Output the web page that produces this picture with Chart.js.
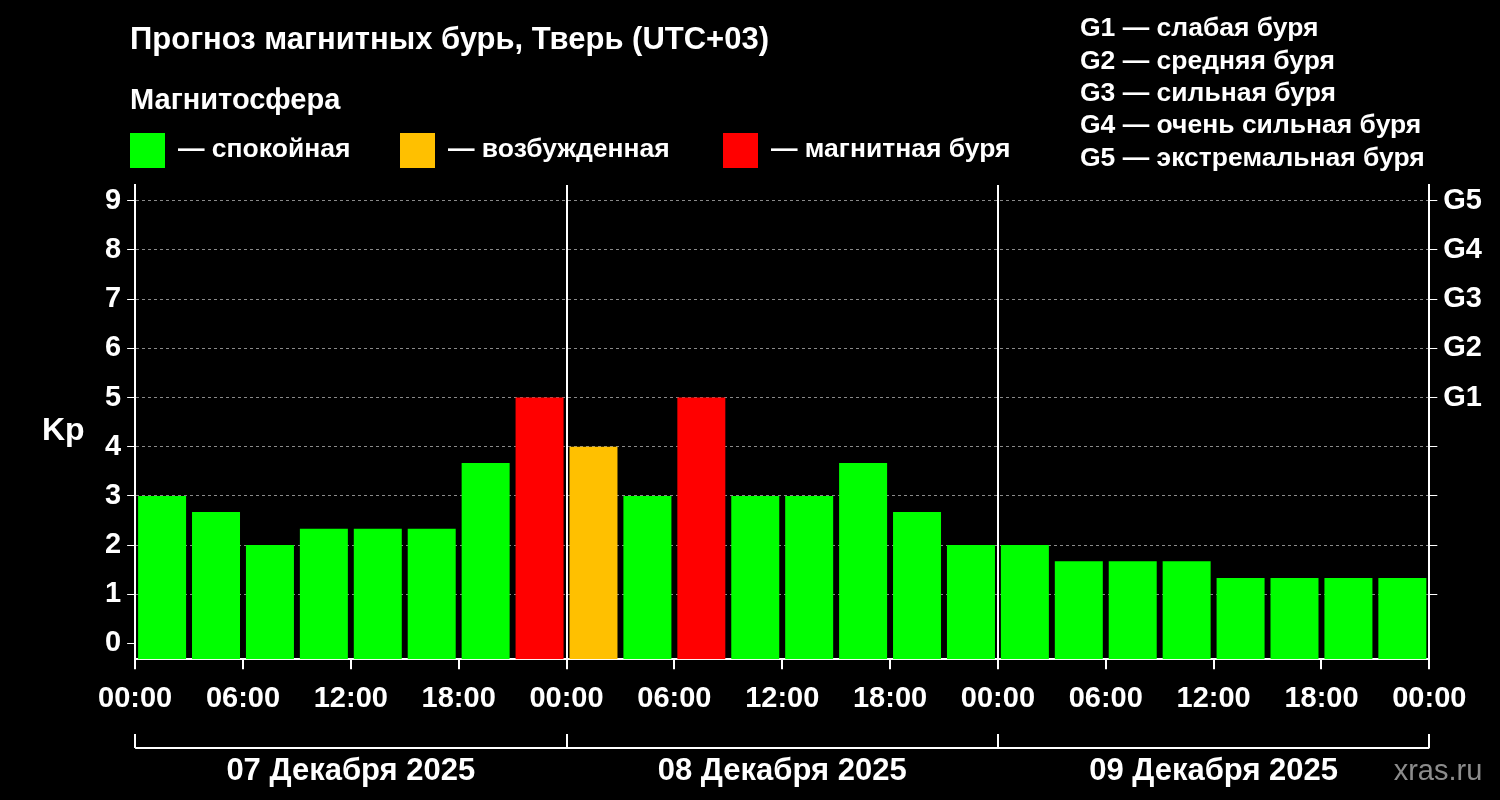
<!DOCTYPE html>
<html>
<head>
<meta charset="utf-8">
<script src="https://cdn.jsdelivr.net/npm/chart.js@4"></script>
<style>
  html, body { margin: 0; padding: 0; background: #000; }
  #wrap { width: 1500px; height: 800px; }
</style>
</head>
<body>
<div id="wrap"><canvas id="kp"></canvas></div>
<script>
// Kp forecast, 3-hour steps from 07 Dec 00:00
const kpValues = [3, 2.67, 2, 2.33, 2.33, 2.33, 3.67, 5,
                  4, 3, 5, 3, 3, 3.67, 2.67, 2,
                  2, 1.67, 1.67, 1.67, 1.33, 1.33, 1.33, 1.33];
const dayLabels = ['07 Декабря 2025', '08 Декабря 2025', '09 Декабря 2025'];
const gLabels = { 5: 'G1', 6: 'G2', 7: 'G3', 8: 'G4', 9: 'G5' };
const gLegend = ['G1 — слабая буря', 'G2 — средняя буря', 'G3 — сильная буря',
                 'G4 — очень сильная буря', 'G5 — экстремальная буря'];
const levels = [
  { text: '— спокойная', color: '#00ff00' },
  { text: '— возбужденная', color: '#ffc000' },
  { text: '— магнитная буря', color: '#ff0000' }
];
const yMin = -0.32, yMax = 9.32;
const FONT = '"Liberation Sans", Arial, sans-serif';

function barColor(v) {
  if (v >= 5) return '#ff0000';
  if (v >= 4) return '#ffc000';
  return '#00ff00';
}

const decor = {
  id: 'decor',
  afterDatasetsDraw(chart) {
    const ctx = chart.ctx;
    const x = chart.scales.x, a = chart.chartArea;
    ctx.save();
    ctx.strokeStyle = '#fff';
    ctx.lineWidth = 2;
    ctx.setLineDash([]);
    [0, 24, 48, 72].forEach(h => {
      const px = Math.round(x.getPixelForValue(h));
      ctx.beginPath(); ctx.moveTo(px, a.top); ctx.lineTo(px, a.bottom); ctx.stroke();
    });
    ctx.restore();
  },
  afterDraw(chart) {
    const ctx = chart.ctx;
    const x = chart.scales.x;
    ctx.save();
    ctx.fillStyle = '#fff';
    ctx.textBaseline = 'middle';
    ctx.font = 'bold 31px ' + FONT;
    ctx.fillText('Прогноз магнитных бурь, Тверь (UTC+03)', 130, 40);
    ctx.font = 'bold 29px ' + FONT;
    ctx.fillText('Магнитосфера', 130, 101);
    const lx = [130, 400, 723];
    levels.forEach((l, i) => {
      ctx.fillStyle = l.color;
      ctx.fillRect(lx[i], 133, 35, 35);
      ctx.fillStyle = '#fff';
      ctx.font = 'bold 26.5px ' + FONT;
      ctx.fillText(l.text, lx[i] + 48, 150);
    });
    ctx.font = 'bold 26.5px ' + FONT;
    gLegend.forEach((t, i) => ctx.fillText(t, 1080, 29 + i * 32.3));

    // Kp title
    ctx.font = 'bold 32px ' + FONT;
    ctx.fillText('Kp', 42, 431);

    // day bracket
    ctx.strokeStyle = '#fff';
    ctx.lineWidth = 2;
    const by = 748;
    ctx.beginPath();
    ctx.moveTo(x.getPixelForValue(0), by);
    ctx.lineTo(x.getPixelForValue(72), by);
    [0, 24, 48, 72].forEach(h => {
      const px = Math.round(x.getPixelForValue(h));
      ctx.moveTo(px, by); ctx.lineTo(px, 734);
    });
    ctx.stroke();
    ctx.textAlign = 'center';
    ctx.font = 'bold 31px ' + FONT;
    dayLabels.forEach((d, i) => ctx.fillText(d, x.getPixelForValue(12 + 24 * i), 771));
    ctx.fillStyle = '#8c8c8c';
    ctx.font = '29px ' + FONT;
    ctx.fillText('xras.ru', 1438, 772);
    ctx.restore();
  }
};

const points = kpValues.map((v, i) => ({ x: 1.5 + 3 * i, y: [yMin, v] }));

new Chart(document.getElementById('kp'), {
  type: 'bar',
  data: {
    datasets: [{
      data: points,
      backgroundColor: kpValues.map(barColor),
      borderWidth: 0,
      categoryPercentage: 1,
      barPercentage: 0.89
    }]
  },
  options: {
    responsive: true,
    maintainAspectRatio: false,
    animation: false,
    devicePixelRatio: 1,
    layout: { padding: { top: 185, left: 99, right: 12, bottom: 72 } },
    plugins: { legend: { display: false }, tooltip: { enabled: false } },
    scales: {
      x: {
        type: 'linear', min: 0, max: 72, offset: false,
        afterBuildTicks: s => { s.ticks = [0, 6, 12, 18, 24, 30, 36, 42, 48, 54, 60, 66, 72].map(v => ({ value: v })); },
        ticks: {
          color: '#fff', font: { family: FONT, size: 29, weight: 'bold' },
          maxRotation: 0, autoSkip: false, padding: 12,
          callback: v => String(v % 24).padStart(2, '0') + ':00'
        },
        grid: { display: true, offset: false, drawOnChartArea: false, color: '#fff', tickLength: 10, lineWidth: 2 },
        border: { color: '#fff', width: 2 }
      },
      y: {
        min: yMin, max: yMax,
        afterBuildTicks: s => { s.ticks = [0, 1, 2, 3, 4, 5, 6, 7, 8, 9].map(v => ({ value: v })); },
        ticks: { color: '#fff', font: { family: FONT, size: 29, weight: 'bold' }, padding: 6 },
        grid: {
          color: c => c.tick && c.tick.value >= 1 ? '#8a8a8a' : 'rgba(0,0,0,0)',
          tickColor: '#fff', tickLength: 8, lineWidth: 1
        },
        border: { color: '#fff', width: 2, dash: [3, 3] }
      },
      y2: {
        position: 'right', min: yMin, max: yMax,
        afterBuildTicks: s => { s.ticks = [1, 2, 3, 4, 5, 6, 7, 8, 9].map(v => ({ value: v })); },
        ticks: {
          color: '#fff', font: { family: FONT, size: 29, weight: 'bold' }, padding: 6,
          callback: v => gLabels[v] || ''
        },
        grid: { drawOnChartArea: false, color: '#fff', tickLength: 8 },
        border: { color: '#fff', width: 2 }
      }
    }
  },
  plugins: [decor]
});
</script>
</body>
</html>
